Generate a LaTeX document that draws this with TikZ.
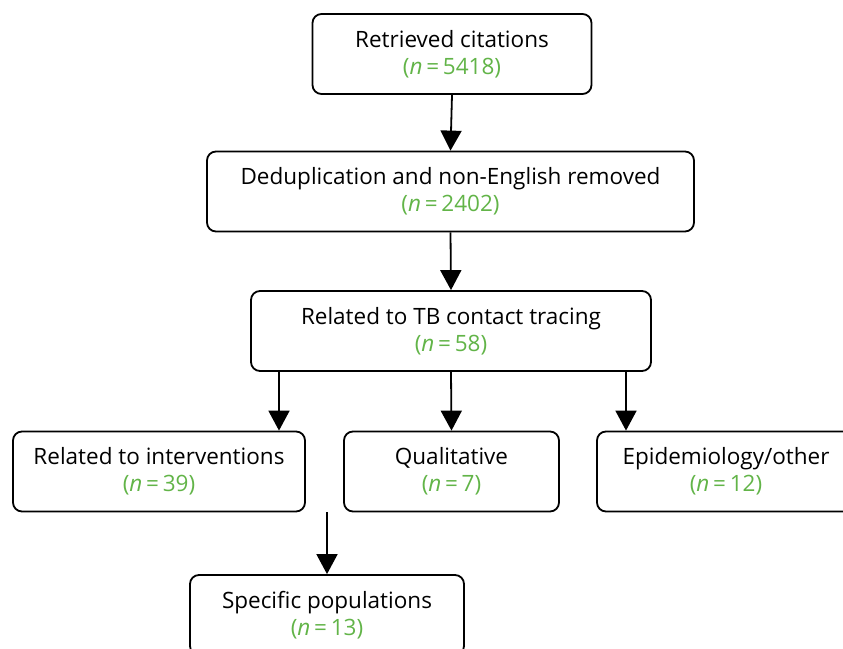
\documentclass[tikz,border=0pt]{standalone}
\usepackage{fontspec}
\setmainfont{Open Sans}
\usetikzlibrary{arrows.meta}
\definecolor{ngreen}{RGB}{98,180,72}
\tikzset{
  box/.style={draw=black, line width=1.8pt, rounded corners=9pt, align=center,
    minimum height=80pt, inner sep=0pt, font=\fontsize{22.5}{27}\selectfont},
  arr/.style={line width=1.8pt, -{Triangle[width=21pt,length=20pt]}},
}
\newcommand{\cnt}[1]{{\color{ngreen}(\textit{n}\,=\,#1)}}
\begin{document}
\begin{tikzpicture}[x=1pt,y=-1pt]
\useasboundingbox (0,0) rectangle (843,648);
\clip (0,0) rectangle (843,648);
\node[box, minimum width=279pt] (b1) at (452,54) {Retrieved citations\\\cnt{5418}};
\node[box, minimum width=487pt] (b2) at (450.5,191.5) {Deduplication and non-English removed\\\cnt{2402}};
\node[box, minimum width=400pt] (b3) at (451,331) {Related to TB contact tracing\\\cnt{58}};
\node[box, minimum width=292pt] (b4) at (159,471.5) {Related to interventions\\\cnt{39}};
\node[box, minimum width=215pt] (b5) at (451.5,471.5) {Qualitative\\\cnt{7}};
\node[box, minimum width=258pt] (b6) at (726,471.5) {Epidemiology/other\\\cnt{12}};
\node[box, minimum width=274pt] (b7) at (327,615) {Specific populations\\\cnt{13}};
\coordinate (xl) at (279,0);
\coordinate (xr) at (626,0);
\coordinate (s7) at (327,512);
\draw[arr] (b1.south) -- (b2.south |- b2.north);
\draw[arr] (b2.south) -- (b3.north);
\draw[arr] (b3.south -| xl) -- (b4.north -| xl);
\draw[arr] (b3.south) -- (b5.north);
\draw[arr] (b3.south -| xr) -- (b6.north -| xr);
\draw[arr] (s7) -- (b7.north);
\end{tikzpicture}
\end{document}
